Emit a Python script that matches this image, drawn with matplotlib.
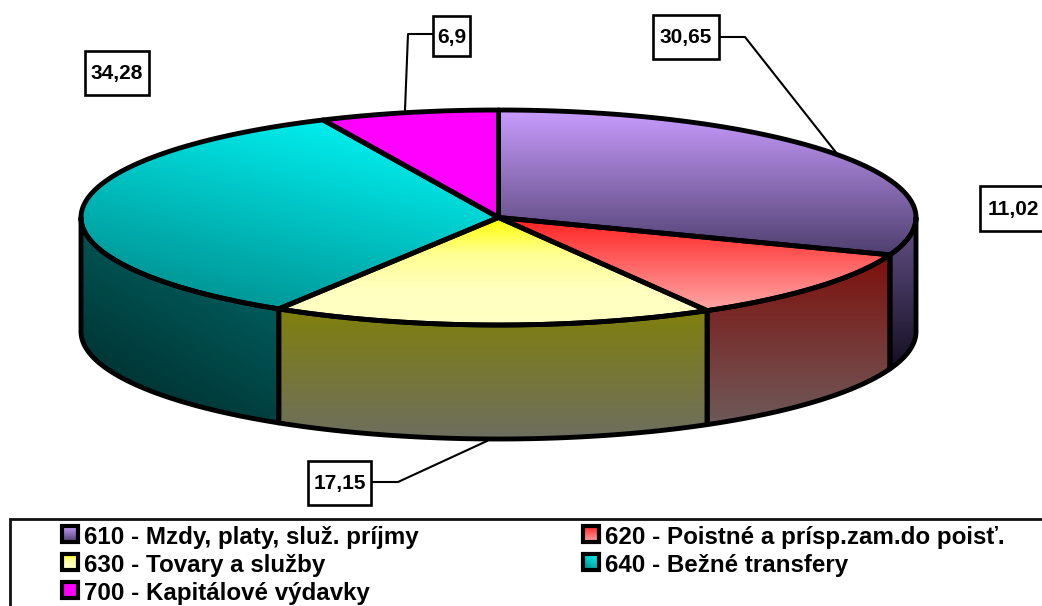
import numpy as np
import matplotlib
matplotlib.use("Agg")
import matplotlib.pyplot as plt
from matplotlib.colors import LinearSegmentedColormap
from matplotlib.patches import Polygon, Rectangle

plt.rcParams["font.family"] = ["Liberation Sans", "DejaVu Sans"]

# ---- data ----
categories = ["610 - Mzdy, platy, služ. príjmy", "620 - Poistné a prísp.zam.do poisť.",
              "630 - Tovary a služby", "640 - Bežné transfery", "700 - Kapitálové výdavky"]
values = [30.65, 11.02, 17.15, 34.28, 6.9]
value_labels = ["30,65", "11,02", "17,15", "34,28", "6,9"]

# ---- style ----
top_colors = [("#C99CFF", "#4E3F6E"), ("#FF2020", "#FFA8A8"), ("#FFFF00", "#FFFF90", "#FFFFC0", "#FFFFC4"),
              ("#00FFFF", "#008585"), ("#FF00FF", "#FF00FF")]
side_colors = [("#66528A", "#140F22"), ("#7E100C", "#6E5A5A"), ("#80800C", "#6E6E60"),
               ("#007070", "#002626"), ("#FF00FF", "#FF00FF")]
CX, CY, RX, RY, DEPTH = 498.5, 217.5, 417.5, 107.5, 114
LW = 3.5

label_boxes = [(653, 15, 66, 44), (980, 186, 70, 45), (308, 461, 63, 44), (85, 51, 64, 44), (433, 16, 37, 40)]
leaders = [[(719, 37), (745, 37), (838, 155)], None, [(371, 482), (398, 482), (487, 441)], None,
           [(433, 34), (408, 34), (405, 110)]]
legend_pos = [(84, 536), (605, 536), (84, 564), (605, 564), (84, 592)]


def rim(theta):
    return np.column_stack([CX + RX * np.sin(theta), CY - RY * np.cos(theta)])


def shade(ax, pts, colors, diagonal=False):
    # gradient image clipped to the polygon
    poly = Polygon(pts, closed=True, fc="none", ec="none", transform=ax.transData)
    ax.add_patch(poly)
    x0, y0 = pts.min(axis=0)
    x1, y1 = pts.max(axis=0)
    cmap = LinearSegmentedColormap.from_list("g", colors)
    u, v = np.meshgrid(np.linspace(0, 1, 200), np.linspace(0, 1, 200))
    grad = 0.65 * v + 0.35 * (1 - u) if diagonal else v
    im = ax.imshow(grad, extent=(x0, x1, y1, y0), cmap=cmap, vmin=0, vmax=1,
                   aspect="auto", interpolation="bilinear", zorder=2)
    im.set_clip_path(poly)


fig = plt.figure(figsize=(10.42, 6.06), dpi=100)
ax = fig.add_axes([0, 0, 1, 1])

edges = np.radians(np.concatenate([[0], np.cumsum(values)]) / sum(values) * 360)

# side walls (front half only)
for i in range(len(values)):
    a, b = max(edges[i], np.pi / 2), min(edges[i + 1], 3 * np.pi / 2)
    if a >= b:
        continue
    up = rim(np.linspace(a, b, 120))
    down = up[::-1] + [0, DEPTH]
    pts = np.vstack([up, down])
    shade(ax, pts, side_colors[i], diagonal=i == 3)
    ax.add_patch(Polygon(pts, closed=True, fc="none", ec="black", lw=LW, joinstyle="round", zorder=3))

# top wedges
for i in range(len(values)):
    arc = rim(np.linspace(edges[i], edges[i + 1], 200))
    pts = np.vstack([[CX, CY], arc])
    shade(ax, pts, top_colors[i], diagonal=i == 3)
    ax.add_patch(Polygon(pts, closed=True, fc="none", ec="black", lw=LW, joinstyle="round", zorder=4))

# value labels
for lab, box, lead in zip(value_labels, label_boxes, leaders):
    if lead is not None:
        xs, ys = zip(*lead)
        ax.plot(xs, ys, color="black", lw=1.5, zorder=5)
    x, y, w, h = box
    ax.add_patch(Rectangle((x, y), w, h, fc="white", ec="black", lw=1.9, zorder=6))
    ax.text(x + w / 2 if x < 950 else x + 33, y + h / 2 + 1, lab, ha="center", va="center",
            fontsize=15, fontweight="bold", zorder=7)

# legend
ax.add_patch(Rectangle((10, 519), 1100, 200, fc="white", ec="#111111", lw=2, zorder=1))
for i, (name, (x, y)) in enumerate(zip(categories, legend_pos)):
    sw = np.array([[x - 22, y - 10], [x - 6, y - 10], [x - 6, y + 6], [x - 22, y + 6]], dtype=float)
    shade(ax, sw, top_colors[i], diagonal=i == 3)
    ax.add_patch(Polygon(sw, closed=True, fc="none", ec="black", lw=3, zorder=4))
    ax.text(x, y + 1.5, name, ha="left", va="center", fontsize=17.35, fontweight="bold", zorder=7)

ax.set_xlim(0, 1042)
ax.set_ylim(606, 0)
ax.axis("off")
fig.savefig("out.png", dpi=100)
